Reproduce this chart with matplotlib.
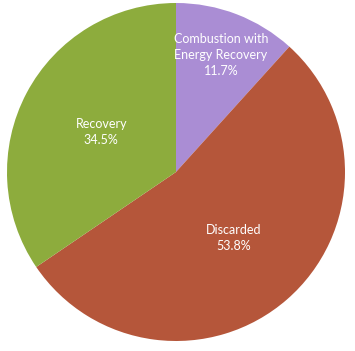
import numpy as np
import matplotlib
matplotlib.use("Agg")
import matplotlib.pyplot as plt

labels = ["Combustion with\nEnergy Recovery", "Discarded", "Recovery"]
shares = [11.7, 53.8, 34.5]
colors = ["#aa8dd4", "#b5563a", "#8dac3d"]
label_r = [0.74, 0.52, 0.50]

fig = plt.figure(figsize=(3.55, 3.51), dpi=100)
ax = fig.add_axes([7 / 355, 10 / 351, 338 / 355, 338 / 351])
wedges, _ = ax.pie(shares, colors=colors, startangle=90, counterclock=False,
                   radius=1.0, wedgeprops=dict(linewidth=0))
ax.set_xlim(-1, 1)
ax.set_ylim(-1, 1)
ax.axis("off")

for w, lab, val, r in zip(wedges, labels, shares, label_r):
    mid = np.deg2rad((w.theta1 + w.theta2) / 2)
    ax.text(r * np.cos(mid), r * np.sin(mid), f"{lab}\n{val}%",
            ha="center", va="center", color="white", fontsize=9,
            family="Lato", linespacing=1.4)

fig.savefig("out.png", dpi=100)
